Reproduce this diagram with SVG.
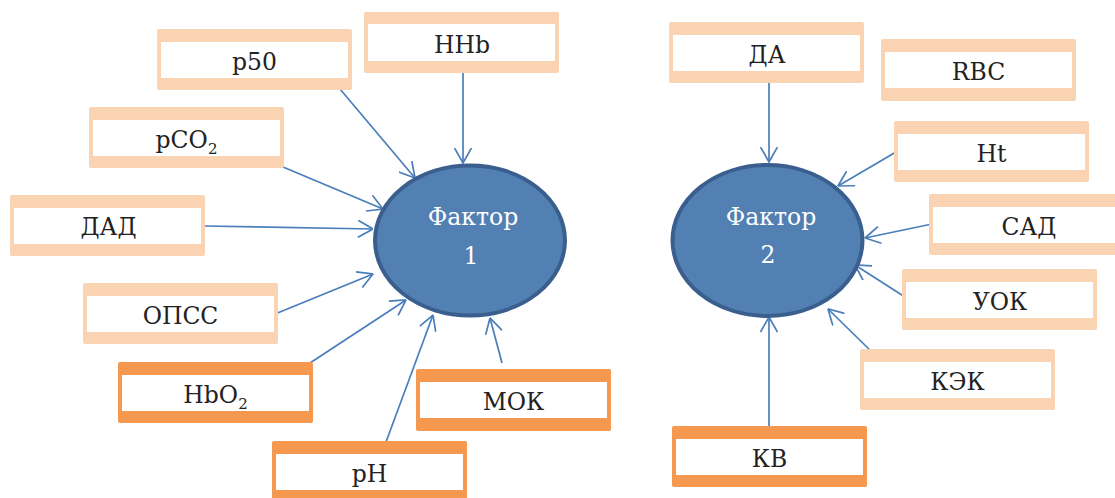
<svg xmlns="http://www.w3.org/2000/svg" width="1115" height="498" viewBox="0 0 1115 498">
<defs>
<marker id="arr" viewBox="0 0 16 18" refX="15.5" refY="9" markerWidth="16" markerHeight="18" markerUnits="userSpaceOnUse" orient="auto">
<path d="M0.5,0.5 L15.5,9 L0.5,17.5" fill="none" stroke="#4A7EBB" stroke-width="1.7"/>
</marker>
<style>
.lt{fill:#FAD3B2}
.dk{fill:#F59850}
.in{fill:#FFFFFF}
.t{font-family:"DejaVu Serif","Liberation Serif",serif;font-size:23.5px;fill:#222222;text-anchor:middle}
.s{font-size:15px}
.el{fill:#5280B2;stroke:#3A5F8E;stroke-width:4}
.et{font-family:"DejaVu Serif","Liberation Serif",serif;font-size:23.5px;fill:#FFFFFF;text-anchor:middle}
.c{fill:none;stroke:#4A7EBB;stroke-width:1.7;marker-end:url(#arr)}
</style>
</defs>
<rect width="1115" height="498" fill="#FFFFFF"/>
<g id="connectors">
<line class="c" x1="463" y1="73" x2="463" y2="163"/>
<line class="c" x1="340" y1="89" x2="415" y2="178"/>
<line class="c" x1="283" y1="167" x2="383" y2="209"/>
<line class="c" x1="204" y1="226" x2="373" y2="229"/>
<line class="c" x1="275" y1="314" x2="373" y2="274"/>
<line class="c" x1="310" y1="363" x2="406" y2="300"/>
<line class="c" x1="386" y1="442" x2="433" y2="315"/>
<line class="c" x1="502" y1="363" x2="490" y2="318"/>
<line class="c" x1="769" y1="83" x2="769" y2="162"/>
<line class="c" x1="896" y1="152" x2="838" y2="186"/>
<line class="c" x1="932" y1="224" x2="865" y2="238"/>
<line class="c" x1="905" y1="297" x2="855" y2="265"/>
<line class="c" x1="872" y1="352" x2="828" y2="309"/>
<line class="c" x1="769" y1="426" x2="769" y2="317"/>
</g>
<g id="factor1">
<ellipse class="el" cx="470" cy="240.5" rx="95" ry="75"/>
<text class="et" x="473" y="225">Фактор</text>
<text class="et" x="471" y="264">1</text>
</g>
<g id="factor2">
<ellipse class="el" cx="767.5" cy="240.5" rx="95" ry="75.5"/>
<text class="et" x="771" y="225">Фактор</text>
<text class="et" x="768" y="263">2</text>
</g>
<g id="n-hhb"><rect class="lt" x="364" y="12" width="195" height="61" rx="2"/><rect class="in" x="368" y="24" width="187" height="37"/><text class="t" x="462" y="52.5">HHb</text></g>
<g id="n-p50"><rect class="lt" x="157" y="29" width="195" height="61" rx="2"/><rect class="in" x="161" y="42" width="187" height="36"/><text class="t" x="254.5" y="69.5">p50</text></g>
<g id="n-pco2"><rect class="lt" x="89" y="107" width="195" height="61" rx="2"/><rect class="in" x="93" y="120" width="187" height="36"/><text class="t" x="186.5" y="147.5">pCO<tspan class="s" dy="6">2</tspan></text></g>
<g id="n-dad"><rect class="lt" x="10" y="195" width="195" height="61" rx="2"/><rect class="in" x="14" y="208" width="187" height="36"/><text class="t" x="108.5" y="235">ДАД</text></g>
<g id="n-opss"><rect class="lt" x="83" y="283" width="195" height="61" rx="2"/><rect class="in" x="87" y="296" width="187" height="36"/><text class="t" x="180.5" y="323.5">ОПСС</text></g>
<g id="n-hbo2"><rect class="dk" x="118" y="362" width="195" height="61" rx="2"/><rect class="in" x="122" y="375" width="187" height="36"/><text class="t" x="215.5" y="402.5">HbO<tspan class="s" dy="6">2</tspan></text></g>
<g id="n-ph"><rect class="dk" x="272" y="441" width="195" height="61" rx="2"/><rect class="in" x="276" y="454" width="187" height="36"/><text class="t" x="369.5" y="481.5">pH</text></g>
<g id="n-mok"><rect class="dk" x="416" y="369" width="195" height="62" rx="2"/><rect class="in" x="420" y="382" width="187" height="36"/><text class="t" x="513.5" y="409.5">МОК</text></g>
<g id="n-da"><rect class="lt" x="669" y="22" width="195" height="61" rx="2"/><rect class="in" x="673" y="35" width="187" height="36"/><text class="t" x="767" y="62.5">ДА</text></g>
<g id="n-rbc"><rect class="lt" x="881" y="39" width="195" height="62" rx="2"/><rect class="in" x="885" y="52" width="187" height="36"/><text class="t" x="978.5" y="79.5">RBC</text></g>
<g id="n-ht"><rect class="lt" x="894" y="121" width="195" height="61" rx="2"/><rect class="in" x="898" y="134" width="187" height="36"/><text class="t" x="991.5" y="161.5">Ht</text></g>
<g id="n-sad"><rect class="lt" x="929" y="194" width="195" height="61" rx="2"/><rect class="in" x="933" y="207" width="187" height="36"/><text class="t" x="1029" y="234.5">САД</text></g>
<g id="n-uok"><rect class="lt" x="902" y="269" width="195" height="61" rx="2"/><rect class="in" x="906" y="282" width="187" height="36"/><text class="t" x="1000" y="309.5">УОК</text></g>
<g id="n-kek"><rect class="lt" x="860" y="349" width="195" height="61" rx="2"/><rect class="in" x="864" y="362" width="187" height="36"/><text class="t" x="957.5" y="389.5">КЭК</text></g>
<g id="n-kv"><rect class="dk" x="672" y="426" width="195" height="61" rx="2"/><rect class="in" x="676" y="439" width="187" height="36"/><text class="t" x="769.5" y="466.5">КВ</text></g>
</svg>
